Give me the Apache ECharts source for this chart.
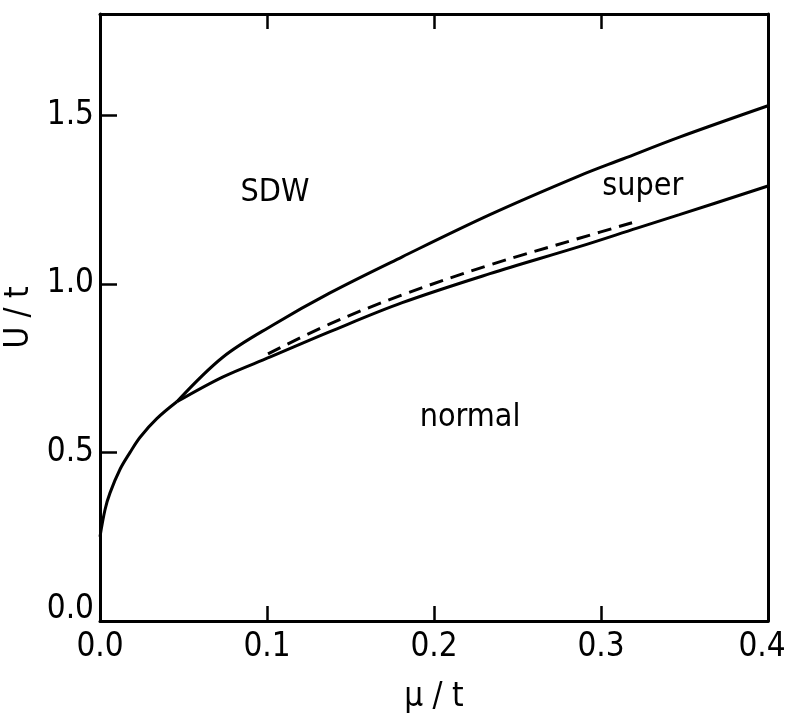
<!DOCTYPE html>
<html>
<head>
<meta charset="utf-8">
<script src="https://cdn.jsdelivr.net/npm/echarts@6/dist/echarts.min.js"></script>
<style>html,body{margin:0;padding:0;background:#fff}#c{width:785px;height:714px}</style>
</head>
<body>
<div id="c"></div>
<script>
// common branch (0 -> junction)
var commonMu = [0, 0.003, 0.006, 0.012, 0.018, 0.024, 0.034, 0.046];
var commonU  = [0.25, 0.33, 0.38, 0.45, 0.50, 0.545, 0.60, 0.65];
// upper boundary (SDW / super)
var upperMu = [0.046, 0.0737, 0.1036, 0.1377, 0.181, 0.2335, 0.287, 0.313, 0.347, 0.4];
var upperU  = [0.65, 0.783, 0.878, 0.973, 1.08, 1.205, 1.32, 1.37, 1.435, 1.528];
// lower boundary (super / normal)
var lowerMu = [0.046, 0.0737, 0.102, 0.1377, 0.181, 0.2335, 0.287, 0.3216, 0.347, 0.4];
var lowerU  = [0.65, 0.724, 0.783, 0.858, 0.944, 1.03, 1.11, 1.165, 1.205, 1.29];
// dashed curve
var dashMu = [0.1006, 0.1377, 0.181, 0.2335, 0.287, 0.3186];
var dashU  = [0.792, 0.881, 0.967, 1.056, 1.135, 1.181];
// region labels
var regionNames = ['SDW', 'super', 'normal'];
var regionMu = [0.1048, 0.325, 0.2216];
var regionU = [1.27, 1.288, 0.602];
// ticks
var xTicks = ['0.0', '0.1', '0.2', '0.3', '0.4'];
var xTickVals = [0, 0.1, 0.2, 0.3, 0.4];
var yTicks = ['0.0', '0.5', '1.0', '1.5'];
var yTickVals = [0, 0.5, 1.0, 1.5];

function zip(a, b) { return a.map(function (v, i) { return [v, b[i]]; }); }

var FONT = '"Liberation Sans Narrow", "DejaVu Sans Condensed", "Liberation Sans", sans-serif';
var INK = '#000';

var chart = echarts.init(document.getElementById('c'), null, {renderer: 'canvas'});
var lineStyle = {color: INK, width: 3};
var option = {
  animation: false,
  backgroundColor: '#fff',
  grid: {left: 100, right: 17, top: 14, bottom: 93, containLabel: false, outerBoundsMode: 'none'},
  xAxis: [{
    type: 'value', min: 0, max: 0.4, interval: 0.1,
    name: 'μ / t', nameLocation: 'middle', nameGap: 60,
    nameTextStyle: {fontFamily: FONT, fontSize: 33, color: INK},
    axisLine: {show: true, onZero: false, lineStyle: {color: INK, width: 3}},
    axisTick: {show: true, inside: true, length: 15, customValues: [0.1, 0.2, 0.3],
      lineStyle: {color: INK, width: 2.5}},
    axisLabel: {fontFamily: FONT, fontSize: 33, color: INK, margin: 10, customValues: xTickVals,
      formatter: function (v) {
        var i = Math.round(v * 10);
        return i === 4 ? '{r|' + xTicks[i] + '}' : xTicks[i];
      },
      rich: {r: {fontFamily: FONT, fontSize: 33, color: INK, padding: [0, 12, 0, 0]}}},
    splitLine: {show: false}
  }, {
    type: 'value', min: 0, max: 0.4, interval: 0.1, position: 'top',
    axisLine: {show: true, onZero: false, lineStyle: {color: INK, width: 3}},
    axisTick: {show: true, inside: true, length: 15, customValues: [0.1, 0.2, 0.3],
      lineStyle: {color: INK, width: 2.5}},
    axisLabel: {show: false}, splitLine: {show: false}
  }],
  yAxis: [{
    type: 'value', min: 0, max: 1.8, interval: 0.5,
    name: 'U / t', nameLocation: 'middle', nameGap: 60, nameRotate: 90,
    nameTextStyle: {fontFamily: FONT, fontSize: 33, color: INK},
    axisLine: {show: true, onZero: false, lineStyle: {color: INK, width: 3}},
    axisTick: {show: true, inside: true, length: 17, customValues: [0.5, 1.0, 1.5],
      lineStyle: {color: INK, width: 2.5}},
    axisLabel: {fontFamily: FONT, fontSize: 33, color: INK, margin: 6, customValues: yTickVals,
      formatter: function (v) {
        var s = yTicks[Math.round(v * 2)];
        return v === 0 ? '{lo|' + s + '}' : s;
      },
      rich: {lo: {fontFamily: FONT, fontSize: 33, color: INK, padding: [0, 0, 24, 0]}}},
    splitLine: {show: false}
  }, {
    type: 'value', min: 0, max: 1.8, position: 'right',
    axisLine: {show: true, onZero: false, lineStyle: {color: INK, width: 3}},
    axisTick: {show: false}, axisLabel: {show: false}, splitLine: {show: false}
  }],
  series: [
    {type: 'line', data: zip(commonMu, commonU), smooth: 0.35, showSymbol: false, lineStyle: lineStyle},
    {type: 'line', data: zip(upperMu, upperU), smooth: 0.35, showSymbol: false, lineStyle: lineStyle},
    {type: 'line', data: zip(lowerMu, lowerU), smooth: 0.35, showSymbol: false, lineStyle: lineStyle},
    {type: 'line', data: zip(dashMu, dashU), smooth: 0.35, showSymbol: false,
      lineStyle: {color: INK, width: 3, type: [14, 8]}},
    {type: 'scatter', symbolSize: 1, silent: true,
      itemStyle: {opacity: 0, color: INK},
      data: regionNames.map(function (n, i) { return {name: n, value: [regionMu[i], regionU[i]]}; }),
      label: {show: true, position: 'inside', formatter: '{b}', fontFamily: FONT, fontSize: 32,
        color: INK, opacity: 1}}
  ]
};
chart.setOption(option);
</script>
</body>
</html>
